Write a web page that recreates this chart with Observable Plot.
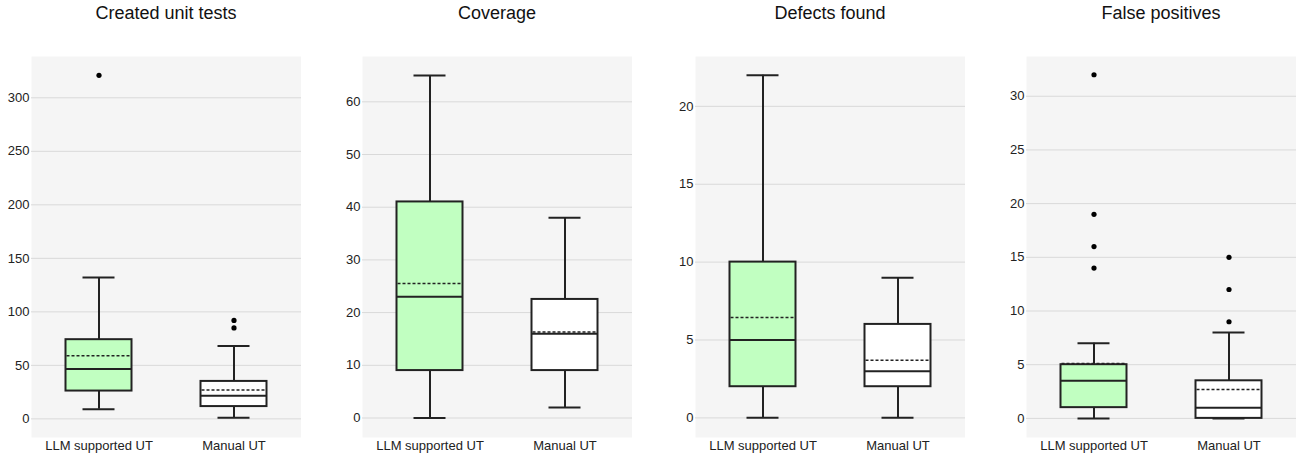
<!DOCTYPE html>
<html>
<head>
<meta charset="utf-8">
<script src="https://cdn.jsdelivr.net/npm/d3@7"></script>
<script src="https://cdn.jsdelivr.net/npm/@observablehq/plot@0.6"></script>
<style>
  html, body { margin: 0; padding: 0; background: #fff; }
  #root { position: relative; width: 1296px; height: 457px; overflow: hidden; font-family: "Liberation Sans", Arial, sans-serif; }
  .title { position: absolute; top: 3px; font-size: 18px; line-height: 20px; color: #111; text-align: center; white-space: nowrap; }
  .panel { position: absolute; top: 40px; }
</style>
</head>
<body>
<div id="root"></div>
<script>
// ---- data ----
const groups = ["LLM supported UT", "Manual UT"];
const metrics = ["Created unit tests", "Coverage", "Defects found", "False positives"];
const groupFill = ["#c1ffc1", "#ffffff"];

const whiskerLow  = [[9, 1],     [0, 2],    [0, 0],    [0, 0]];
const q1          = [[26, 11.5], [9, 9],    [2, 2],    [1, 0]];
const median      = [[46.5, 21.5],[23, 16], [5, 3],    [3.5, 1]];
const mean        = [[59, 27],   [25.5, 16.3],[6.45, 3.7],[5.1, 2.7]];
const q3          = [[74, 35],   [41, 22.5],[10, 6],   [5, 3.5]];
const whiskerHigh = [[132, 68],  [65, 38],  [22, 9],   [7, 8]];
const outliers    = [[[321], [85, 92]], [[], []], [[], []], [[14, 16, 19, 32], [9, 12, 15]]];

const yTicks = [
  [0, 50, 100, 150, 200, 250, 300],
  [0, 10, 20, 30, 40, 50, 60],
  [0, 5, 10, 15, 20],
  [0, 5, 10, 15, 20, 25, 30]
];
const yDomains = [[-17.4, 338.6], [-3.7, 68.6], [-1.26, 23.2], [-1.78, 33.7]];

// ---- layout ----
const plotLefts = [31, 362, 695, 1026];
const plotW = 270;
const mLeft = 40;
const band = plotW / groups.length;
const boxW = 66, capW = 32;
const boxInset = (band - boxW) / 2;
const capInset = (band - capW) / 2;
const ink = "#222";

const root = document.getElementById("root");

metrics.forEach((metric, i) => {
  const stats = groups.map((g, j) => ({
    group: g,
    fill: groupFill[j],
    lo: whiskerLow[i][j], q1: q1[i][j], med: median[i][j],
    mean: mean[i][j], q3: q3[i][j], hi: whiskerHigh[i][j]
  }));
  const pts = groups.flatMap((g, j) => outliers[i][j].map(v => ({group: g, value: v})));

  const chart = Plot.plot({
    width: mLeft + plotW,
    height: 417,
    marginLeft: mLeft,
    marginRight: 0,
    marginTop: 16,
    marginBottom: 20,
    style: {fontFamily: "'Liberation Sans', Arial, sans-serif", fontSize: "13px", color: "#222", background: "transparent"},
    x: {domain: groups, padding: 0, label: null, tickSize: 0, tickPadding: 3},
    y: {domain: yDomains[i], ticks: yTicks[i], label: null, tickSize: 0, tickPadding: 2},
    marks: [
      Plot.frame({fill: "#f5f5f5", stroke: null}),
      Plot.gridY(yTicks[i], {stroke: "#d9d9d9", strokeOpacity: 1, strokeWidth: 1}),
      Plot.ruleX(stats, {x: "group", y1: "lo", y2: "q1", stroke: ink, strokeWidth: 2}),
      Plot.ruleX(stats, {x: "group", y1: "q3", y2: "hi", stroke: ink, strokeWidth: 2}),
      Plot.tickY(stats, {x: "group", y: "lo", stroke: ink, strokeWidth: 2, insetLeft: capInset, insetRight: capInset}),
      Plot.tickY(stats, {x: "group", y: "hi", stroke: ink, strokeWidth: 2, insetLeft: capInset, insetRight: capInset}),
      Plot.barY(stats, {x: "group", y1: "q1", y2: "q3", fill: d => d.fill, stroke: ink, strokeWidth: 2, insetLeft: boxInset, insetRight: boxInset}),
      Plot.tickY(stats, {x: "group", y: "mean", stroke: ink, strokeWidth: 1.5, strokeDasharray: "3,2", insetLeft: boxInset + 1, insetRight: boxInset + 1}),
      Plot.tickY(stats, {x: "group", y: "med", stroke: ink, strokeWidth: 2, insetLeft: boxInset, insetRight: boxInset}),
      Plot.dot(pts, {x: "group", y: "value", r: 2.6, fill: "#000", stroke: null})
    ]
  });

  const wrap = document.createElement("div");
  wrap.className = "panel";
  wrap.style.left = (plotLefts[i] - mLeft) + "px";
  wrap.appendChild(chart);
  root.appendChild(wrap);

  const t = document.createElement("div");
  t.className = "title";
  t.textContent = metric;
  t.style.left = plotLefts[i] + "px";
  t.style.width = plotW + "px";
  root.appendChild(t);
});
</script>
</body>
</html>
